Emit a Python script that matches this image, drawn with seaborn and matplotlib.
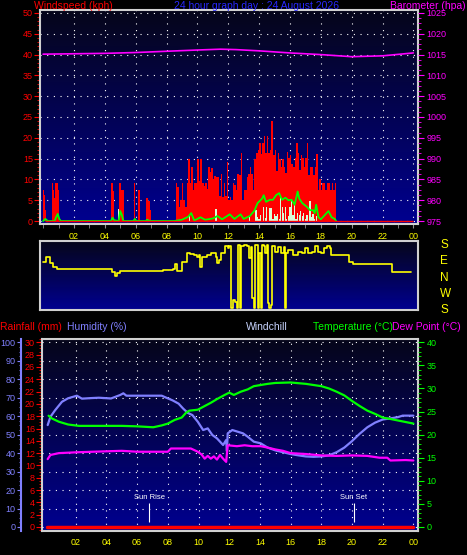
import numpy as np
import matplotlib
matplotlib.use('Agg')
import matplotlib.pyplot as plt
from matplotlib.colors import LinearSegmentedColormap
from matplotlib.ticker import MultipleLocator
import seaborn as sns

sns.set_style('dark', {'axes.facecolor': 'black', 'figure.facecolor': 'black',
                       'xtick.bottom': True, 'ytick.left': True})
plt.rcParams['font.family'] = ['Liberation Sans', 'DejaVu Sans']

# ---------------- data ----------------
hour_ticks = [2, 4, 6, 8, 10, 12, 14, 16, 18, 20, 22, 24]
hour_labels = ['02', '04', '06', '08', '10', '12', '14', '16', '18', '20', '22', '00']

# wind gusts (kph), step values
gust_t = [0.0, 0.05, 0.12, 0.2,
          0.55, 0.62, 0.7, 0.78, 0.95, 1.05,
          4.42, 4.52, 4.62,
          4.9, 5.05, 5.22,
          5.88, 5.96, 6.15, 6.26,
          6.65, 6.7, 6.8, 6.9, 6.98,
          8.5, 8.6, 8.7, 8.8, 8.9, 9.0, 9.1, 9.2, 9.3, 9.4,
          9.5, 9.6, 9.7, 9.8, 9.9, 10.0, 10.1, 10.2, 10.3, 10.4,
          10.5, 10.6, 10.7, 10.8, 10.9, 11.0, 11.1, 11.2, 11.3, 11.4,
          11.5, 11.6, 11.7, 11.8, 11.9, 12.0, 12.1, 12.2, 12.3, 12.4,
          12.5, 12.6, 12.7, 12.8, 12.9, 13.0, 13.1, 13.2, 13.3, 13.4,
          13.5, 13.6, 13.7, 13.8, 13.9, 14.0, 14.1, 14.2, 14.3, 14.4,
          14.5, 14.6, 14.7, 14.8, 14.9, 15.0, 15.1, 15.2, 15.3, 15.4,
          15.5, 15.6, 15.7, 15.8, 15.9, 16.0, 16.1, 16.2, 16.3, 16.4,
          16.5, 16.6, 16.7, 16.8, 16.9, 17.0, 17.1, 17.2, 17.3, 17.4,
          17.5, 17.6, 17.7, 17.8, 17.9, 18.0, 18.1, 18.2, 18.3, 18.4,
          18.5, 18.6, 18.7, 18.8, 18.9, 19.0]
gust_v = [7.5, 6.2, 2.6, 0,
          9.1, 7.5, 5.5, 9.1, 7.5, 0,
          9.1, 7.2, 0,
          9.1, 7.5, 0,
          9.1, 0, 7.5, 0,
          9.1, 5.5, 4.9, 2.6, 0,
          0, 9.1, 8.1, 3.4, 5.0, 9.1, 5.0, 3.4, 9.1, 14.8,
          9.1, 13.0, 7.5, 9.1, 9.2, 14.8, 9.5, 14.8, 9.1, 8.5,
          9.1, 7.8, 12.9, 11.7, 12.7, 10.2, 10.7, 10.6, 10.6, 6.0,
          11.2, 5.8, 9.1, 6.0, 14.3, 5.0, 5.8, 5.0, 9.1, 8.7,
          7.5, 11.2, 11.0, 16.4, 5.0, 7.5, 7.5, 10.6, 11.2, 13.0,
          11.2, 7.5, 14.8, 16.4, 17.1, 18.7, 16.2, 18.7, 20.4, 16.3,
          20.4, 16.3, 17.1, 24.1, 15.9, 17.1, 11.9, 16.3, 15.0, 13.0,
          15.0, 13.0, 11.5, 16.7, 15.1, 15.9, 13.6, 13.1, 15.1, 18.7,
          16.4, 12.3, 15.9, 15.1, 13.0, 15.1, 18.7, 11.0, 13.0, 13.1,
          11.0, 13.1, 16.2, 7.5, 10.2, 7.5, 9.2, 9.1, 7.5, 9.2,
          9.1, 7.5, 9.2, 7.5, 9.1, 0]

# lulls (kph), pale bars
lull_t = [4.9, 9.5, 11.2, 13.4,
          13.8, 13.9, 14.0, 14.1, 14.3, 14.4, 14.5, 14.7, 14.8, 14.9,
          15.0, 15.1, 15.2, 15.3, 15.4, 15.5, 15.6, 15.7, 15.8, 15.9,
          16.0, 16.1, 16.2, 16.3, 16.4, 16.5, 16.6, 16.7, 16.8, 16.9,
          17.0, 17.1, 17.3, 17.4, 17.5, 17.6, 17.7]
lull_v = [3.0, 1.5, 3.0, 1.0,
          2.6, 1.0, 0.6, 1.4, 3.3, 0.8, 3.3, 3.1, 3.1, 0.5,
          1.8, 1.2, 1.8, 0.4, 6.2, 3.3, 2.0, 3.3, 0.5, 1.2,
          3.3, 4.8, 1.4, 4.0, 0.6, 2.0, 1.4, 2.4, 1.2, 2.0,
          0.6, 1.4, 4.8, 1.0, 1.8, 0.5, 1.2]

# average wind speed (kph)
avg_t = [0.0, 0.15, 0.3, 0.75, 0.85, 0.95, 1.05, 1.15,
         4.4, 4.5, 4.6, 4.9, 5.0, 5.1, 5.2, 5.85, 5.95, 6.05,
         6.65, 6.75, 6.9, 8.5, 9.0, 9.4, 9.6, 9.8, 10.2, 10.5,
         11.0, 11.3, 11.6, 12.1, 12.4, 12.8, 13.0, 13.4, 13.7, 13.9,
         14.2, 14.3, 14.45, 14.7, 14.9, 15.1, 15.3, 15.4, 15.5, 15.7,
         15.9, 16.1, 16.3, 16.5, 16.6, 16.8, 17.1, 17.3, 17.5, 17.6,
         17.7, 17.85, 18.0, 18.3, 18.5, 18.7, 18.9, 19.0]
avg_v = [0, 0.5, 0, 0, 1.0, 1.7, 0.5, 0,
         0, 0.8, 0.2, 0, 2.4, 1.5, 0, 0, 0.5, 0,
         0, 0.3, 0, 0, 0.3, 1.0, 1.9, 0.1, 0.9, 0.3,
         0.6, 1.2, 0.4, 1.6, 0.5, 1.6, 0.5, 1.2, 2.5, 4.3,
         5.4, 6.2, 4.6, 5.1, 5.1, 6.2, 6.7, 5.8, 5.1, 5.6,
         5.0, 5.1, 3.9, 7.1, 5.4, 4.3, 3.4, 2.6, 2.6, 1.9,
         3.9, 0.9, 0.4, 1.6, 2.4, 0.9, 0.5, 0]

# barometer (hPa)
baro_t = [0, 2, 4, 6, 8, 10, 11.5, 12.5, 14, 16, 18, 20, 22, 24]
baro_v = [1015.1, 1015.2, 1015.3, 1015.5, 1015.8, 1016.1, 1016.3, 1016.2,
          1015.9, 1015.4, 1015.0, 1014.5, 1014.7, 1015.4]

# wind direction (compass degrees)
dir_t = [0.0, 0.17, 0.45, 0.65, 0.9, 4.45, 4.65, 4.8, 5.0, 6.7,
         7.8, 8.4, 8.55, 8.65, 9.0, 9.3, 9.5, 9.8, 10.0, 10.1,
         10.2, 10.3, 10.6, 10.9, 11.05, 11.2, 11.3, 11.4, 11.5, 11.65,
         11.8, 12.0, 12.05, 12.15, 12.3, 12.45, 12.55, 12.65, 12.75, 12.85,
         13.0, 13.2, 13.35, 13.45, 13.55, 13.65, 13.75, 13.9, 14.0, 14.1,
         14.2, 14.3, 14.4, 14.5, 14.55, 14.65, 14.75, 14.85, 15.0, 15.2,
         15.4, 15.6, 15.7, 15.75, 15.9, 16.2, 16.5, 16.8, 17.0, 17.2,
         17.4, 17.6, 17.8, 18.0, 18.2, 18.4, 18.6, 18.65, 19.8, 20.1,
         22.6, 23.85]
dir_deg = [78, 102, 73, 51, 36, 23, 0, 18, 29, 25,
           33, 36, 65, 27, 75, 124, 118, 115, 105, 112,
           51, 102, 115, 124, 126, 105, 69, 87, 124, 126,
           164, 151, 164, 184, 229, 220, 184, 169, 184, 164,
           169, 164, 96, 160, 238, 184, 169, 184, 124, 184,
           169, 164, 124, 169, 212, 184, 202, 164, 133, 160,
           124, 160, 184, 124, 142, 115, 133, 124, 151, 124,
           133, 164, 133, 124, 151, 164, 151, 115, 78, 65,
           20, 20]
dir_labels = ['S', 'E', 'N', 'W', 'S']
dir_ticks = [180, 90, 0, -90, -180]

# rainfall (mm)
rain_t = [0.1, 24]
rain_v = [0, 0]

# humidity (%)
hum_t = [0.17, 0.35, 0.66, 1.1, 1.5, 2.07, 2.4, 3.0, 3.5, 4.3, 4.9, 5.1, 5.3,
         6.0, 7.0, 7.6, 7.9, 8.3, 8.7, 9.0, 9.3, 9.6, 9.95, 10.3, 10.6, 10.9,
         11.2, 11.6, 11.8, 11.85, 11.9, 12.2, 12.55, 12.9, 13.2, 13.6, 14.05,
         14.5, 15.0, 15.5, 16.0, 16.5, 17.0, 17.5, 18.0, 18.5, 19.0, 19.5,
         20.0, 20.5, 21.0, 21.5, 22.0, 22.5, 23.0, 23.3, 24.0]
hum_v = [55.2, 59.7, 63.3, 67.8, 69.7, 71.1, 69.5, 69.8, 70.0, 69.6, 71.5, 72.4, 71.1,
         71.1, 71.1, 71.1, 70.0, 68.6, 66.8, 64.1, 61.8, 60.6, 57.0, 52.5, 53.4, 49.8,
         48.0, 44.4, 47.1, 41.0, 50.7, 52.5, 51.6, 50.7, 48.9, 46.2, 45.3,
         43.0, 41.5, 40.5, 39.5, 38.8, 38.2, 38.0, 38.2, 38.8, 40.5, 43.0,
         46.5, 50.5, 54.0, 56.5, 58.2, 58.8, 59.5, 60.3, 60.3]

# temperature (C)
temp_t = [0.23, 0.45, 0.9, 1.5, 2.2, 5.0, 6.0, 7.05, 7.6, 8.0, 8.45, 8.9, 9.2,
          9.4, 9.95, 10.4, 10.8, 11.2, 11.7, 12.0, 12.3, 12.75, 13.2, 13.6,
          13.95, 14.5, 15.0, 16.0, 17.0, 18.0, 18.5, 19.0, 19.5, 20.0, 20.5,
          21.0, 21.5, 22.0, 22.5, 23.1, 24.0]
temp_v = [24.1, 23.5, 22.8, 22.2, 21.9, 21.9, 21.8, 21.6, 22.0, 22.4, 23.2, 23.7, 24.8,
          25.2, 25.4, 26.2, 26.9, 27.7, 28.6, 29.1, 28.6, 29.3, 29.8, 30.5,
          30.7, 31.0, 31.2, 31.3, 31.0, 30.5, 30.0, 29.3, 28.5, 27.3, 26.2,
          25.2, 24.5, 23.7, 23.4, 23.0, 22.4]

# dew point (C)
dew_t = [0.17, 0.35, 0.9, 2.2, 5.0, 6.0, 8.0, 8.2, 9.5, 9.95, 10.2, 10.4, 10.6,
         10.8, 11.0, 11.2, 11.4, 11.6, 11.8, 11.9, 12.5, 13.0, 13.5, 14.05, 14.5,
         15.0, 15.5, 16.0, 17.0, 18.0, 19.0, 20.0, 21.0, 21.8, 22.3, 22.5, 23.5, 24.0]
dew_v = [14.7, 15.6, 16.0, 16.2, 16.5, 16.3, 16.3, 17.0, 17.0, 16.3, 15.7, 14.8, 15.4,
         14.8, 15.3, 14.6, 15.6, 14.8, 14.1, 17.7, 17.5, 17.7, 17.5, 17.5, 17.2,
         16.8, 16.5, 16.0, 15.8, 15.5, 15.4, 15.5, 15.4, 15.0, 15.0, 14.4, 14.5, 14.4]

sun_rise = 6.8
sun_set = 20.1

# ---------------- figure ----------------
W, H = 467, 555
fig = plt.figure(figsize=(W / 100, H / 100), dpi=100, facecolor='black')


def box(x0, y0, x1, y1):
    return [x0 / W, 1 - y1 / H, (x1 - x0) / W, (y1 - y0) / H]


bg = LinearSegmentedColormap.from_list('bg', ['#06061a', '#000090'])
frame_col = '#d0d0d0'
dots = (0, (1, 5))
fs = 6.5


def panel(ax):
    ax.imshow(np.linspace(0, 1, 200).reshape(-1, 1), cmap=bg, aspect='auto',
              extent=[0, 1, 0, 1], transform=ax.transAxes, zorder=-10, origin='upper')
    for s in ax.spines.values():
        s.set_color(frame_col)
        s.set_linewidth(1.5)
    ax.set_xlim(-0.2, 24.3)


def hide_spines(ax):
    for s in ax.spines.values():
        s.set_visible(False)


# ---- top panel: wind + barometer ----
ax1 = fig.add_axes(box(40, 10, 418, 224))
panel(ax1)
ax1.fill_between(gust_t, gust_v, step='post', color='#ff0000', lw=0, zorder=2)
ax1.bar(lull_t, lull_v, width=0.08, color='#d8ffd8', lw=0, zorder=3)
sns.lineplot(x=avg_t, y=avg_v, ax=ax1, color='#00ff00', lw=1.3, zorder=5,
             estimator=None, sort=False)
ax1.hlines(0, 0.1, 24, color='#ff0000', lw=1, zorder=6)
ax1.set_ylim(-0.72, 50.72)
ax1.yaxis.set_major_locator(MultipleLocator(5))
ax1.yaxis.set_minor_locator(MultipleLocator(1))
ax1.set_xticks(hour_ticks, hour_labels)
ax1.xaxis.set_minor_locator(MultipleLocator(1))
ax1.tick_params(axis='y', which='both', colors='#ff0000', labelsize=fs, direction='out')
ax1.tick_params(axis='y', which='major', length=4, pad=1)
ax1.tick_params(axis='y', which='minor', length=2)
ax1.tick_params(axis='x', which='both', colors='#909090', length=3, direction='out')
ax1.tick_params(axis='x', labelcolor='#ffff00', labelsize=fs, pad=3)
ax1.xaxis.grid(True, color='white', ls=dots, lw=0.8)
ax1.yaxis.grid(True, color='white', ls=dots, lw=0.8)
ax1.set_xlabel('')
ax1.set_ylabel('')

ax1b = ax1.twinx()
hide_spines(ax1b)
sns.lineplot(x=baro_t, y=baro_v, ax=ax1b, color='#ff00ff', lw=1.2, estimator=None, sort=False)
ax1b.set_ylim(975 - 0.72, 1025 + 0.72)
ax1b.yaxis.set_major_locator(MultipleLocator(5))
ax1b.yaxis.set_minor_locator(MultipleLocator(1.25))
ax1b.tick_params(axis='y', which='both', colors='#ff00ff', labelsize=fs, direction='out')
ax1b.tick_params(axis='y', which='major', length=4, pad=2)
ax1b.tick_params(axis='y', which='minor', length=2)
ax1b.set_ylabel('')

# ---- middle panel: wind direction ----
ax2 = fig.add_axes(box(40, 241, 418, 310))
panel(ax2)
dir_disp = np.where(np.array(dir_deg) > 180, np.array(dir_deg) - 360, np.array(dir_deg))
ax2.plot(dir_t, dir_disp, drawstyle='steps-post', color='#ffff00', lw=1.2)
ax2.set_ylim(-185.5, 191)
ax2.set_xticks([])
ax2.set_yticks(dir_ticks, dir_labels)
ax2.tick_params(axis='y', left=False, right=False, labelleft=False, labelright=True,
                length=0, pad=16, labelcolor='#ffff00', labelsize=8.5)

# ---- bottom panel: rain, humidity, temperature, dew point ----
ax3 = fig.add_axes(box(42, 339, 418, 531))
panel(ax3)
ax3.set_ylim(-0.65, 30.54)
ax3.yaxis.set_major_locator(MultipleLocator(2))
ax3.yaxis.set_minor_locator(MultipleLocator(0.5))
ax3.tick_params(axis='y', which='both', colors='#ff0000', labelsize=fs, direction='out')
ax3.tick_params(axis='y', which='major', length=4, pad=1)
ax3.tick_params(axis='y', which='minor', length=2)
ax3.set_xticks(hour_ticks, hour_labels)
ax3.tick_params(axis='x', length=0, labelcolor='#ffff00', labelsize=fs, pad=5)
ax3.xaxis.grid(True, color='white', ls=dots, lw=0.8)

ax3h = ax3.twinx()
hide_spines(ax3h)
ax3h.spines['left'].set_visible(True)
ax3h.spines['left'].set_position(('outward', 15))
ax3h.spines['left'].set_color('#8080ff')
ax3h.spines['left'].set_linewidth(1.5)
ax3h.yaxis.set_ticks_position('left')
ax3h.yaxis.set_label_position('left')
ax3h.set_ylim(-2.17, 101.8)
ax3h.yaxis.set_major_locator(MultipleLocator(10))
ax3h.yaxis.set_minor_locator(MultipleLocator(2.5))
ax3h.tick_params(axis='y', which='both', colors='#8080ff', labelsize=fs, direction='out')
ax3h.tick_params(axis='y', which='major', length=3, pad=1)
ax3h.tick_params(axis='y', which='minor', length=1.5)
ax3h.yaxis.grid(True, color='white', ls=dots, lw=0.8)
sns.lineplot(x=hum_t, y=hum_v, ax=ax3h, color='#8080ff', lw=1.6, estimator=None, sort=False)
ax3h.set_ylabel('')

ax3t = ax3.twinx()
hide_spines(ax3t)
ax3t.set_ylim(-0.87, 40.72)
ax3t.yaxis.set_major_locator(MultipleLocator(5))
ax3t.yaxis.set_minor_locator(MultipleLocator(1))
ax3t.tick_params(axis='y', which='both', colors='#00ff00', labelsize=fs, direction='out')
ax3t.tick_params(axis='y', which='major', length=4, pad=2)
ax3t.tick_params(axis='y', which='minor', length=2)
sns.lineplot(x=dew_t, y=dew_v, ax=ax3t, color='#ff00ff', lw=1.6, estimator=None, sort=False)
sns.lineplot(x=temp_t, y=temp_v, ax=ax3t, color='#00ff00', lw=1.6, estimator=None, sort=False)
sns.lineplot(x=rain_t, y=[v * 40 / 30 for v in rain_v], ax=ax3t, color='#ff0000', lw=2.5,
             estimator=None, sort=False)
ax3t.set_ylabel('')

for t, lbl in [(sun_rise, 'Sun Rise'), (sun_set, 'Sun Set')]:
    ax3h.vlines(t, 2.6, 13.0, color='white', lw=0.8)
    ax3h.text(t, 14.0, lbl, color='white', fontsize=5.5, ha='center', va='bottom')

# ---- headings ----
def head(x, y, s, c, ha='left'):
    fig.text(x / W, 1 - y / H, s, color=c, fontsize=7.5, ha=ha, va='center')


head(34, 6, 'Windspeed (kph)', '#ff0000')
head(256, 6, '24 hour graph day : 24 August 2026', '#2828ff', 'center')
head(466, 6, 'Barometer (hpa)', '#ff00ff', 'right')
head(0, 327, 'Rainfall (mm)', '#ff0000')
head(67, 327, 'Humidity (%)', '#8080ff')
head(246, 327, 'Windchill', '#c8d4ff')
head(313, 327, 'Temperature (°C)', '#00ff00')
head(392, 327, 'Dew Point (°C)', '#ff00ff')

fig.savefig('out.png', dpi=100, facecolor='black')
